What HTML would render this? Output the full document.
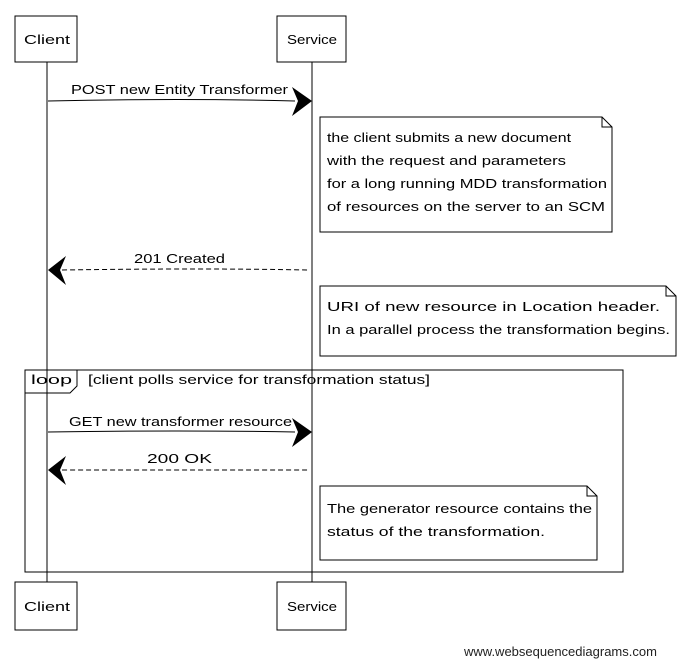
<!DOCTYPE html>
<html><head><meta charset="utf-8"><style>
html,body{margin:0;padding:0;background:#fff;}
svg{display:block;}
text{font-family:"Liberation Sans",sans-serif;font-size:13px;fill:#000;}
</style></head><body>
<svg width="685" height="666" viewBox="0 0 685 666">
<g fill="none" stroke="#000" stroke-width="1">
<line x1="47" y1="62" x2="47" y2="582"/>
<line x1="312" y1="62" x2="312" y2="582"/>
<rect x="15" y="16" width="62" height="46"/>
<rect x="277" y="16" width="69" height="46"/>
<rect x="15" y="582" width="62" height="48"/>
<rect x="277" y="582" width="69" height="48"/>
<path d="M320 117 H602 L612 127 V232 H320 Z M602 117 V127 H612"/>
<path d="M320 286 H666 L676 296 V356 H320 Z M666 286 V296 H676"/>
<path d="M320 486 H587 L597 496 V560 H320 Z M587 486 V496 H597"/>
<rect x="25" y="370" width="598" height="202"/>
<path d="M25 370 H77 V386 L70 393 H25"/>
<path d="M48 101 Q180 98 295 101"/>
<path d="M62 270 Q200 268 310 270" stroke-dasharray="5,3"/>
<path d="M48 432 Q180 430 295 432"/>
<path d="M62 470 Q200 470 310 470" stroke-dasharray="5,3"/>
</g>
<path d="M292 87 L312 101 L292 116 L298 101 Z" fill="#000"/>
<path d="M292 418 L312 432 L292 447 L298 432 Z" fill="#000"/>
<path d="M66 256 L48 270 L66 285 L60 270 Z" fill="#000"/>
<path d="M66 456 L48 470 L66 485 L60 470 Z" fill="#000"/>
<g lengthAdjust="spacingAndGlyphs">
<text x="24" y="44" textLength="46" lengthAdjust="spacingAndGlyphs">Client</text>
<text x="287" y="44" textLength="50" lengthAdjust="spacingAndGlyphs">Service</text>
<text x="24" y="611" textLength="46" lengthAdjust="spacingAndGlyphs">Client</text>
<text x="287" y="611" textLength="50" lengthAdjust="spacingAndGlyphs">Service</text>
<text x="71" y="94" textLength="217" lengthAdjust="spacingAndGlyphs">POST new Entity Transformer</text>
<text x="134" y="263" textLength="91" lengthAdjust="spacingAndGlyphs">201 Created</text>
<text x="69" y="426" textLength="223" lengthAdjust="spacingAndGlyphs">GET new transformer resource</text>
<text x="147" y="463" textLength="65" lengthAdjust="spacingAndGlyphs">200 OK</text>
<text x="31" y="384" textLength="41" lengthAdjust="spacingAndGlyphs">loop</text>
<text x="88" y="384" textLength="342" lengthAdjust="spacingAndGlyphs">[client polls service for transformation status]</text>
<text x="327" y="142" textLength="244" lengthAdjust="spacingAndGlyphs">the client submits a new document</text>
<text x="327" y="165" textLength="239" lengthAdjust="spacingAndGlyphs">with the request and parameters</text>
<text x="327" y="188" textLength="280" lengthAdjust="spacingAndGlyphs">for a long running MDD transformation</text>
<text x="327" y="211" textLength="278" lengthAdjust="spacingAndGlyphs">of resources on the server to an SCM</text>
<text x="327" y="311" textLength="333" lengthAdjust="spacingAndGlyphs">URI of new resource in Location header.</text>
<text x="327" y="334" textLength="343" lengthAdjust="spacingAndGlyphs">In a parallel process the transformation begins.</text>
<text x="327" y="513" textLength="265" lengthAdjust="spacingAndGlyphs">The generator resource contains the</text>
<text x="327" y="536" textLength="218" lengthAdjust="spacingAndGlyphs">status of the transformation.</text>
</g>
<text x="464" y="656" style="font-size:13px;fill:#222">www.websequencediagrams.com</text>
</svg>
</body></html>
